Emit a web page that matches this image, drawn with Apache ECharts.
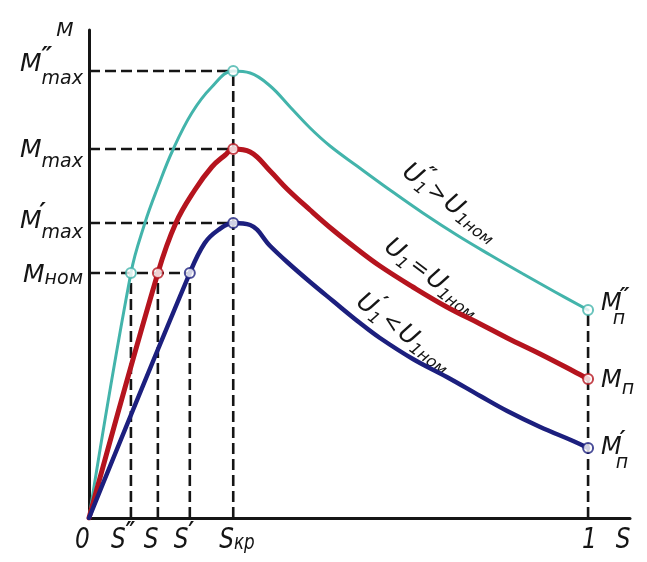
<!DOCTYPE html>
<html>
<head>
<meta charset="utf-8">
<title>M(s)</title>
<script src="https://cdn.jsdelivr.net/npm/echarts@6.0.0/dist/echarts.min.js"></script>
<style>
  html, body { margin: 0; padding: 0; background: #fff; }
  #chart { width: 647px; height: 562px; }
</style>
</head>
<body>
<div id="chart"></div>
<script>
// Torque–slip curves M(s) of an induction motor at three supply voltages.

// Raised voltage U1'' > U1ном
const slipHigh   = [0, 0.084, 0.112, 0.138, 0.168, 0.206, 0.246, 0.289, 0.323, 0.363, 0.403,
                    0.443, 0.483, 0.537, 0.603, 0.669, 0.737, 0.804, 0.870, 0.934, 1];
const torqueHigh = [0, 2.45, 2.95, 3.31, 3.68, 4.05, 4.31, 4.47, 4.45, 4.32, 4.11,
                    3.90, 3.72, 3.52, 3.28, 3.05, 2.83, 2.63, 2.44, 2.26, 2.08];

// Rated voltage U1 = U1ном
const slipNom    = [0, 0.138, 0.174, 0.212, 0.246, 0.273, 0.289, 0.323, 0.363, 0.397, 0.443,
                    0.489, 0.537, 0.583, 0.649, 0.717, 0.784, 0.838, 0.904, 0.970, 1];
const torqueNom  = [0, 2.45, 2.95, 3.28, 3.51, 3.63, 3.69, 3.66, 3.47, 3.29, 3.08,
                    2.88, 2.69, 2.52, 2.31, 2.11, 1.94, 1.80, 1.64, 1.47, 1.39];

// Lowered voltage U1' < U1ном
const slipLow    = [0, 0.202, 0.232, 0.259, 0.289, 0.323, 0.363, 0.397, 0.443, 0.489,
                    0.543, 0.583, 0.649, 0.717, 0.784, 0.838, 0.904, 0.970, 1];
const torqueLow  = [0, 2.45, 2.75, 2.88, 2.95, 2.93, 2.72, 2.56, 2.36, 2.17,
                    1.95, 1.80, 1.59, 1.41, 1.22, 1.07, 0.91, 0.77, 0.70];

// Axis extents
const slipAxisMax = 1.084;
const torqueAxisMax = 4.88;

// Axis mark texts
const torqueMarkNames = ['M', 'M', 'M', 'M'];              // M''max, Mmax, M'max, Mном
const slipMarkNames = ['0', 'S', 'S', 'S', 'S', '1', 'S']; // 0, S'', S, S', Sкр, 1, S

const ink = '#151515';
const colHigh = '#43b4ab', colNom = '#b5141e', colLow = '#1c1f7e';
const FONT = '"DejaVu Sans", "Liberation Sans", sans-serif';

const pairs = (s, m) => s.map((v, i) => [v, m[i]]);
const peakIndex = m => m.indexOf(Math.max(...m));
const last = a => a[a.length - 1];

const highPts = pairs(slipHigh, torqueHigh);
const nomPts = pairs(slipNom, torqueNom);
const lowPts = pairs(slipLow, torqueLow);

const ratedTorque = torqueNom[1];
const sHigh = slipHigh[1], sNom = slipNom[1], sLow = slipLow[1];
const pkHigh = highPts[peakIndex(torqueHigh)];
const pkNom = nomPts[peakIndex(torqueNom)];
const pkLow = lowPts[peakIndex(torqueLow)];
const sCrit = pkHigh[0];

const chart = echarts.init(document.getElementById('chart'), null, { renderer: 'canvas' });

const curve = (data, color, width) => ({
  type: 'line', data, showSymbol: false, smooth: 0.4,
  lineStyle: { color, width, cap: 'round', join: 'round' }, z: 3, silent: true
});
const dashed = (a, b) => ({
  type: 'line', data: [a, b], showSymbol: false, symbol: 'none',
  lineStyle: { color: ink, width: 2.6, type: [11, 5] }, z: 2, silent: true
});
const rings = (data, color) => ({
  type: 'scatter', data, symbol: 'circle', symbolSize: 10,
  itemStyle: { color: '#fff', borderColor: color, borderWidth: 2 }, z: 5, silent: true
});

chart.setOption({
  animation: false,
  backgroundColor: '#fff',
  grid: { left: 89, right: 17, top: 30, bottom: 44 },
  xAxis: {
    type: 'value', min: 0, max: slipAxisMax,
    axisLine: { show: true, onZero: false, lineStyle: { color: ink, width: 3 } },
    axisTick: { show: false }, axisLabel: { show: false }, splitLine: { show: false }
  },
  yAxis: {
    type: 'value', min: 0, max: torqueAxisMax,
    axisLine: { show: true, onZero: false, lineStyle: { color: ink, width: 3 } },
    axisTick: { show: false }, axisLabel: { show: false }, splitLine: { show: false }
  },
  series: [
    dashed([0, pkHigh[1]], [sCrit, pkHigh[1]]),
    dashed([0, pkNom[1]], [sCrit, pkNom[1]]),
    dashed([0, pkLow[1]], [sCrit, pkLow[1]]),
    dashed([0, ratedTorque], [sLow, ratedTorque]),
    dashed([sHigh, 0], [sHigh, ratedTorque]),
    dashed([sNom, 0], [sNom, ratedTorque]),
    dashed([sLow, 0], [sLow, ratedTorque]),
    dashed([sCrit, 0], [sCrit, pkHigh[1]]),
    dashed([1, 0], [1, last(torqueHigh)]),
    curve(highPts, colHigh, 3),
    curve(nomPts, colNom, 5),
    curve(lowPts, colLow, 4.5),
    rings([highPts[1], pkHigh, last(highPts)], colHigh),
    rings([nomPts[1], pkNom, last(nomPts)], colNom),
    rings([lowPts[1], pkLow, last(lowPts)], colLow)
  ]
});

// ---- lettering ----
const meas = document.createElement('canvas').getContext('2d');
const textW = (t, size, w) => { meas.font = `italic ${w || 'normal'} ${size}px ${FONT}`; return meas.measureText(t).width; };

function compose(runs, x, y, opt = {}) {
  let cur = 0;
  const kids = [];
  runs.forEach(r => {
    const rx = cur + (r.dx || 0);
    kids.push({
      type: 'text', x: rx, y: r.dy || 0, silent: true,
      style: {
        text: r.t, font: `italic ${r.w || 'normal'} ${r.size}px ${FONT}`, fill: ink,
        align: 'left', verticalAlign: 'middle', textAlign: 'left', textVerticalAlign: 'middle'
      }
    });
    if (!r.keep) cur = rx + textW(r.t, r.size, r.w) + (r.gap || 0);
  });
  const shift = opt.align === 'center' ? -cur / 2 : opt.align === 'right' ? -cur : 0;
  kids.forEach(k => { k.x += shift; });
  return {
    type: 'group', x, y, rotation: -(opt.rotate || 0) * Math.PI / 180,
    scaleX: opt.sx || 1, scaleY: 1, children: kids, silent: true
  };
}
const px = p => chart.convertToPixel({ gridIndex: 0 }, p);

const g = [];
const [ox, oy] = px([0, 0]);
const P2 = '\u2033', P1 = '\u2032';

// axis names
g.push(compose([{ t: 'M', size: 20 }], ox - 24, px([0, torqueAxisMax])[1] + 1, { align: 'center' }));
g.push(compose([{ t: slipMarkNames[6], size: 29 }], px([1, 0])[0] + 35, oy + 22, { align: 'center', sx: 0.8 }));

// torque marks on the M-axis
const yLab = (value, runs) => g.push(compose(runs, ox - 6, px([0, value])[1], { align: 'right' }));
yLab(pkHigh[1], [{ t: torqueMarkNames[0], size: 25, dy: -7 }, { t: P2, size: 24, w: 'bold', dy: -13, dx: 0, keep: true }, { t: 'max', size: 19, dy: 8 }]);
yLab(pkNom[1],  [{ t: torqueMarkNames[1], size: 25, dy: 1 }, { t: 'max', size: 19, dy: 13 }]);
yLab(pkLow[1],  [{ t: torqueMarkNames[2], size: 25, dy: -2 }, { t: P1, size: 24, w: 'bold', dy: -9, dx: -2, keep: true }, { t: 'max', size: 19, dy: 10 }]);
yLab(ratedTorque, [{ t: torqueMarkNames[3], size: 25, dy: 2 }, { t: 'ном', size: 19, dy: 6 }]);

// slip marks on the s-axis
const xLab = (s, dx, runs) => g.push(compose(runs, px([s, 0])[0] + dx, oy + 22, { sx: 0.8 }));
xLab(0, -14, [{ t: slipMarkNames[0], size: 29 }]);
xLab(sHigh, -20, [{ t: slipMarkNames[1], size: 29 }, { t: P2, size: 26, w: 'bold', dy: -6 }]);
xLab(sNom, -14, [{ t: slipMarkNames[2], size: 29 }]);
xLab(sLow, -16, [{ t: slipMarkNames[3], size: 29 }, { t: P1, size: 26, w: 'bold', dy: -6 }]);
xLab(sCrit, -14, [{ t: slipMarkNames[4], size: 29 }, { t: 'кр', size: 21, dy: 4 }]);
xLab(1, -6, [{ t: slipMarkNames[5], size: 29 }]);

// end-point torque names
const endLab = (pt, runs) => { const [x, y] = px(pt); g.push(compose(runs, x + 13, y, {})); };
endLab(last(highPts), [{ t: 'M', size: 24, dy: -6 }, { t: P2, size: 22, w: 'bold', dy: -13, dx: -2, keep: true }, { t: 'п', size: 19, dy: 9, dx: -9 }]);
endLab(last(nomPts),  [{ t: 'M', size: 24, dy: 2 }, { t: 'п', size: 19, dy: 10 }]);
endLab(last(lowPts),  [{ t: 'M', size: 24, dy: 0 }, { t: P1, size: 22, w: 'bold', dy: -8, dx: -2, keep: true }, { t: 'п', size: 19, dy: 15, dx: -6 }]);

// voltage captions along the curves
const capLab = (pt, runs) => { const [x, y] = px(pt); g.push(compose(runs, x, y, { align: 'center', rotate: 37 })); };
capLab([0.723, 3.15], [
  { t: 'U', size: 25 }, { t: P2, size: 20, w: 'bold', dy: -10, dx: 0, keep: true }, { t: '1', size: 16, dy: 7, gap: 3 },
  { t: '>', size: 22, gap: 2 }, { t: 'U', size: 25 }, { t: '1ном', size: 16, dy: 7 }
]);
capLab([0.687, 2.40], [
  { t: 'U', size: 25 }, { t: '1', size: 16, dy: 7, gap: 3 },
  { t: '=', size: 22, gap: 2 }, { t: 'U', size: 25 }, { t: '1ном', size: 16, dy: 7 }
]);
capLab([0.631, 1.85], [
  { t: 'U', size: 25 }, { t: P1, size: 20, w: 'bold', dy: -10, dx: 0, keep: true }, { t: '1', size: 16, dy: 7, gap: 3 },
  { t: '<', size: 22, gap: 2 }, { t: 'U', size: 25 }, { t: '1ном', size: 16, dy: 7 }
]);

chart.setOption({ graphic: g });
</script>
</body>
</html>
